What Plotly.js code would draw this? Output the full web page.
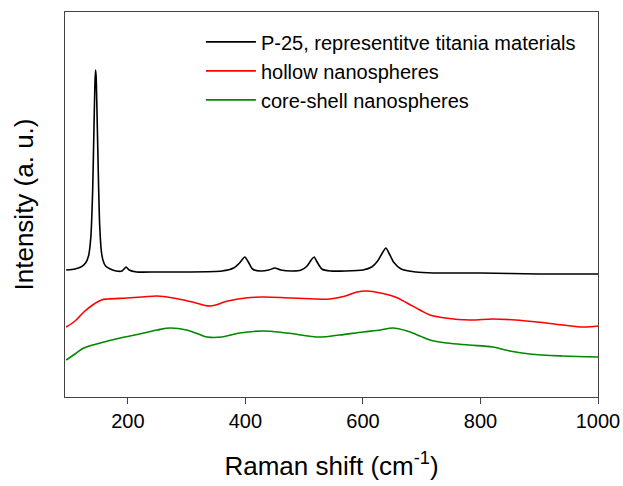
<!DOCTYPE html>
<html><head><meta charset="utf-8">
<script src="https://cdn.plot.ly/plotly-3.0.1.min.js"></script>
<style>body{margin:0;background:#fff}#c{width:623px;height:486px}</style>
</head><body><div id="c"></div>
<script>
const seriesNames = ["P-25, representitve titania materials", "hollow nanospheres", "core-shell nanospheres"];
const seriesColors = ["#000000", "#ff0000", "#008800"];

const p25X = [95,110,120,128,133,137,140,142,144,145,146,148,150,152,155,158,162,170,180,190,197,202,215,250,300,360,380,390,399,405,412,425,440,450,460,480,495,505,512,517,522,530,545,570,600,615,625,633,639,645,652,665,690,720,800,900,1000];
const p25Y = [127,128,130,134,141,160,205,260,315,327,320,270,215,172,145,136,131,128,126,126,130,127,125,125,125,126,129,134,140,135,128,126,127,129,127,126,127,131,137,140,135,128,126,126,127,130,136,144,149,143,135,128,125,124,124,123,123];

const hollowX = [95,110,125,140,155,166,198,225,250,277,310,340,370,400,430,480,544,570,590,607,630,655,675,697,714,740,782,821,860,896,940,975,1000];
const hollowY = [70,76,85,92,97,98,99,100,101,99,95,91,96,99,100,99,98,101,105,106,104,100,94,87,82,79,77,78,77,75,72,70,71];

const coreX = [95,110,125,153,187,220,250,272,300,320,335,360,390,430,470,527,560,600,630,651,675,697,714,743,780,821,850,884,940,1000];
const coreY = [37,43,49,54,59,63,67,69,67,63,60,60,64,66,64,60,62,65,67,69,66,61,57,54,52,50,46,43,41,40];

const xTicks = [200,400,600,800,1000];

const data = [
  {x:p25X, y:p25Y, name:seriesNames[0], mode:"lines", line:{color:seriesColors[0], width:1.6, shape:"spline", smoothing:0.6}},
  {x:hollowX, y:hollowY, name:seriesNames[1], mode:"lines", line:{color:seriesColors[1], width:1.6, shape:"spline"}},
  {x:coreX, y:coreY, name:seriesNames[2], mode:"lines", line:{color:seriesColors[2], width:1.6, shape:"spline"}}
];

const layout = {
  width:623, height:486,
  margin:{l:65, r:25, t:12, b:89},
  paper_bgcolor:"#fff", plot_bgcolor:"#fff",
  font:{family:"Liberation Sans, Arial, sans-serif", size:20, color:"#000"},
  showlegend:true,
  legend:{x:0.255, y:0.973, xanchor:"left", yanchor:"top", bgcolor:"rgba(0,0,0,0)", font:{size:20}, tracegroupgap:0, itemwidth:50},
  xaxis:{range:[93,1000], tickvals:xTicks, ticks:"outside", ticklen:6, tickcolor:"#444",
         showline:true, linecolor:"#444", linewidth:1, mirror:true, showgrid:false, zeroline:false,
         tickfont:{size:20},
         title:{text:"Raman shift (cm<sup>-1</sup>)", font:{size:26}, standoff:25}},
  yaxis:{range:[0,385], showticklabels:false, ticks:"", showline:true, linecolor:"#444", linewidth:1, mirror:true,
         showgrid:false, zeroline:false,
         title:{text:"Intensity (a. u.)", font:{size:26}, standoff:22}}
};
Plotly.newPlot("c", data, layout, {displayModeBar:false, staticPlot:true});
</script></body></html>
